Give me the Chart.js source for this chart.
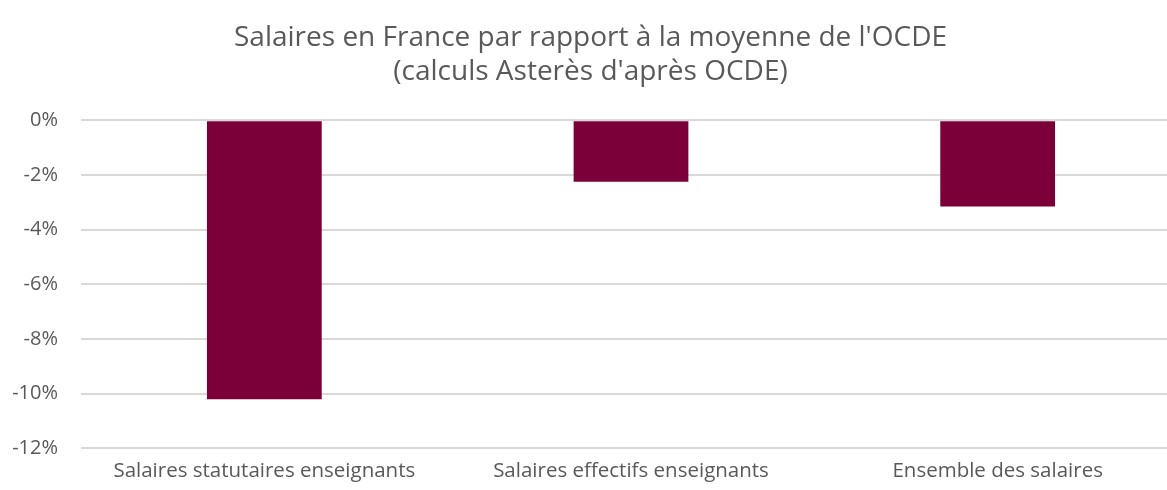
<!DOCTYPE html>
<html>
<head>
<meta charset="utf-8">
<script src="https://cdn.jsdelivr.net/npm/chart.js@4"></script>
<style>
  html, body { margin: 0; padding: 0; background: #fff; overflow: hidden; }
  .chart-container { width: 1190px; height: 490px; }
</style>
</head>
<body>
<div class="chart-container">
  <canvas id="chart"></canvas>
</div>
<script>
const categories = ['Salaires statutaires enseignants', 'Salaires effectifs enseignants', 'Ensemble des salaires']
const ecartMoyenne = [-10.2, -2.25, -3.15]
const titleLines = ["Salaires en France par rapport à la moyenne de l'OCDE", "(calculs Asterès d'après OCDE)"]

const barColor = '#7b003a'
const textColor = '#595959'
const gridColor = '#d9d9d9'
const fontFamily = "'Open Sans', sans-serif"

let chartContainer = document.getElementById('chart')
let renderedChart = new Chart(chartContainer, {
  type: 'bar',
  data: {
    labels: categories,
    datasets: [
      {
        label: 'Écart',
        data: ecartMoyenne,
        backgroundColor: barColor,
        borderWidth: 0,
        categoryPercentage: 1,
        barPercentage: 0.313
      }
    ]
  },
  options: {
    responsive: true,
    maintainAspectRatio: false,
    animation: false,
    layout: { padding: { right: 9, bottom: 5 } },
    plugins: {
      legend: { display: false },
      tooltip: { enabled: false },
      title: {
        display: true,
        text: titleLines,
        color: textColor,
        font: { family: fontFamily, size: 28, weight: 'normal', lineHeight: 1.22 },
        padding: { top: 21, bottom: 31 }
      }
    },
    scales: {
      x: {
        grid: { display: false },
        border: { display: false },
        ticks: {
          color: textColor,
          font: { family: fontFamily, size: 20.5 },
          padding: 2,
          maxRotation: 0
        }
      },
      y: {
        min: -12,
        max: 0,
        afterFit: scale => { scale.width = 81 },
        grid: { color: gridColor, lineWidth: 2, drawTicks: false },
        border: { display: false },
        ticks: {
          stepSize: 2,
          color: textColor,
          font: { family: fontFamily, size: 20 },
          padding: 23,
          callback: v => v + '%'
        }
      }
    }
  }
})
</script>
</body>
</html>
